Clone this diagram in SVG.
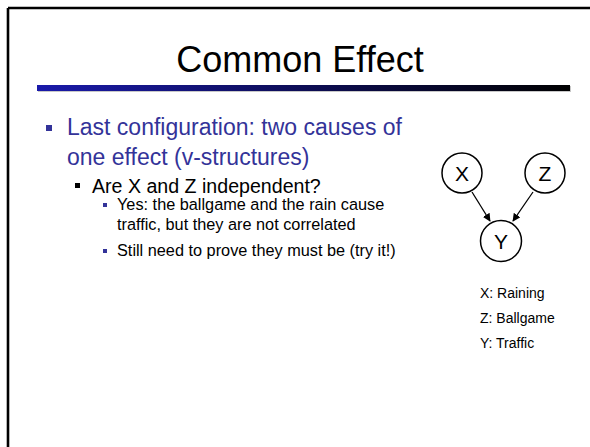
<svg xmlns="http://www.w3.org/2000/svg" width="590" height="447" viewBox="0 0 590 447">
<style>
.t{font-family:"Liberation Sans",Arial,sans-serif}
.blue{fill:#333399}
.node circle{fill:#ffffff;stroke:#000000;stroke-width:1.5}
.node text{font-family:"Liberation Sans",Arial,sans-serif;font-size:21px;fill:#000;text-anchor:middle}
.edge{stroke:#000;stroke-width:1.3;fill:none;marker-end:url(#ah)}
</style>
<defs>
<linearGradient id="bar" x1="0" y1="0" x2="1" y2="0">
<stop offset="0" stop-color="#1a1aaa"/>
<stop offset="1" stop-color="#000000"/>
</linearGradient>
<marker id="ah" viewBox="0 0 10 10" refX="9" refY="5" markerWidth="8" markerHeight="8" markerUnits="userSpaceOnUse" orient="auto">
<path d="M0,0 L10,5 L0,10 z" fill="#000"/>
</marker>
</defs>
<rect width="590" height="447" fill="#ffffff"/>
<g id="frame">
<line x1="8" y1="8" x2="590" y2="8" stroke="#000" stroke-width="2.6"/>
<line x1="8" y1="8" x2="8" y2="447" stroke="#000" stroke-width="2.6"/>
</g>
<g id="title">
<text class="t" x="300" y="72" font-size="36" text-anchor="middle" fill="#000">Common Effect</text>
<rect x="38" y="86" width="533" height="6" fill="#c8c8c8"/>
<rect x="37" y="85" width="533" height="6" fill="url(#bar)"/>
</g>
<g id="body">
<rect x="46" y="125" width="6" height="6" class="blue"/>
<text class="t blue" x="67" y="135" font-size="23">Last configuration: two causes of</text>
<text class="t blue" x="67" y="165" font-size="23">one effect (v-structures)</text>
<rect x="75" y="183" width="5" height="5" fill="#000"/>
<text class="t" x="92" y="193" font-size="19.6" fill="#000">Are X and Z independent?</text>
<rect x="103" y="203" width="4" height="4" class="blue"/>
<text class="t" x="117" y="210" font-size="16.3" fill="#000">Yes: the ballgame and the rain cause</text>
<text class="t" x="117" y="230" font-size="16.3" fill="#000">traffic, but they are not correlated</text>
<rect x="103" y="249" width="4" height="4" class="blue"/>
<text class="t" x="117" y="256" font-size="16.3" fill="#000">Still need to prove they must be (try it!)</text>
</g>
<g id="connectors">
<line class="edge" x1="472" y1="192" x2="490" y2="221"/>
<line class="edge" x1="533" y1="192" x2="513" y2="221"/>
</g>
<g id="node-X" class="node">
<circle cx="462" cy="173" r="20"/>
<text x="462" y="180.5">X</text>
</g>
<g id="node-Z" class="node">
<circle cx="545" cy="173" r="20"/>
<text x="545" y="180.5">Z</text>
</g>
<g id="node-Y" class="node">
<circle cx="501" cy="241" r="20.5"/>
<text x="501" y="248.5">Y</text>
</g>
<g id="legend">
<text class="t" x="480" y="298" font-size="14" fill="#000">X: Raining</text>
<text class="t" x="480" y="323" font-size="14" fill="#000">Z: Ballgame</text>
<text class="t" x="480" y="348" font-size="14" fill="#000">Y: Traffic</text>
</g>
</svg>
